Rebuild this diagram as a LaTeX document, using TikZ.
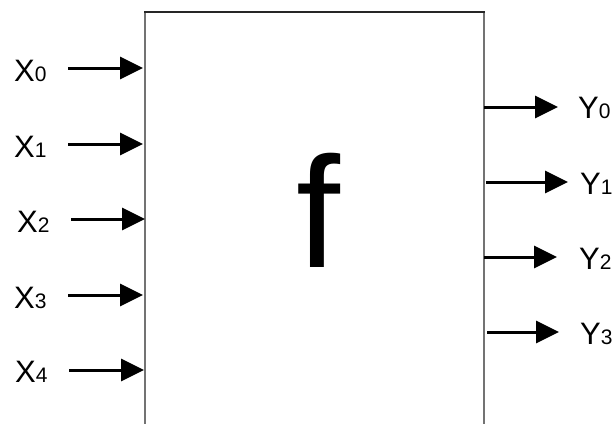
\documentclass[tikz,border=0pt]{standalone}
\usepackage{fontspec}
\setmainfont{Liberation Sans}
\usetikzlibrary{arrows.meta}
\tikzset{
  sig/.style={line width=3pt,-{Triangle[length=23pt,width=22pt]}},
  boxline/.style={line width=1.5pt,draw=black!55},
  lbl/.style={anchor=base west,inner sep=0pt,font=\fontsize{31}{31}\selectfont},
}
\newcommand{\sbs}[1]{{\fontsize{21}{21}\selectfont #1}}
\begin{document}
\begin{tikzpicture}[x=1pt,y=-1pt]
\useasboundingbox (0,0) rectangle (615,423);
% box
\coordinate (bl) at (145,424);
\coordinate (tl) at (145,12);
\coordinate (tr) at (484,12);
\coordinate (br) at (484,424);
\draw[boxline] (bl) -- (tl);
\draw[boxline] (br) -- (tr);
\draw[line width=1.5pt,draw=black!85] ([xshift=-0.75pt]tl) -- ([xshift=0.75pt]tr);
\node[inner sep=0pt,anchor=base,font=\fontsize{158}{158}\selectfont] (f) at (318,267) {f};
% inputs
\coordinate (xs0) at (68,68);  \coordinate (xe0) at (143,68);
\coordinate (xs1) at (68,144); \coordinate (xe1) at (143,144);
\coordinate (xs2) at (71,219); \coordinate (xe2) at (145,219);
\coordinate (xs3) at (68,295); \coordinate (xe3) at (143,295);
\coordinate (xs4) at (69,370); \coordinate (xe4) at (144,370);
\foreach \i in {0,...,4} \draw[sig] (xs\i) -- (xe\i);
\node[lbl] (x0) at (14,81) {X\sbs{0}};
\node[lbl] (x1) at (14,157) {X\sbs{1}};
\node[lbl] (x2) at (17,232) {X\sbs{2}};
\node[lbl] (x3) at (14,308) {X\sbs{3}};
\node[lbl] (x4) at (15,382) {X\sbs{4}};
% outputs
\coordinate (ys0) at (484,107); \coordinate (ye0) at (558,107);
\coordinate (ys1) at (486,182); \coordinate (ye1) at (568,182);
\coordinate (ys2) at (484,257); \coordinate (ye2) at (557,257);
\coordinate (ys3) at (487,332); \coordinate (ye3) at (559,332);
\foreach \i in {0,...,3} \draw[sig] (ys\i) -- (ye\i);
\node[lbl] (y0) at (578,118) {Y\sbs{0}};
\node[lbl] (y1) at (580,194) {Y\sbs{1}};
\node[lbl] (y2) at (579,269) {Y\sbs{2}};
\node[lbl] (y3) at (580,344) {Y\sbs{3}};
\end{tikzpicture}
\end{document}
